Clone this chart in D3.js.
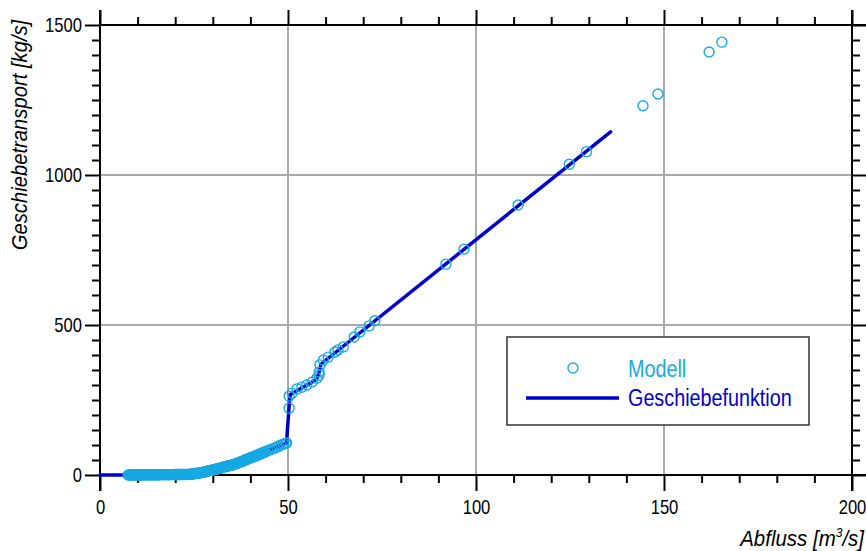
<!DOCTYPE html>
<html>
<head>
<meta charset="utf-8">
<script src="https://cdn.jsdelivr.net/npm/d3@7"></script>
<style>
  body { margin: 0; background: #fff; }
  svg text { font-family: "Liberation Sans", Arial, sans-serif; }
</style>
</head>
<body>
<div id="chart"></div>
<script>
// Modell points: discharge [m3/s] and bedload [kg/s]
const modelQ = [
  7.5, 7.75, 8, 8.25, 8.5, 8.75, 9, 9.25, 9.5, 9.75, 10, 10.25, 10.5, 10.75, 11, 11.25, 11.5, 11.75,
  12, 12.25, 12.5, 12.75, 13, 13.25, 13.5, 13.75, 14, 14.25, 14.5, 14.75, 15, 15.25, 15.5, 15.75,
  16, 16.25, 16.5, 16.75, 17, 17.25, 17.5, 17.75, 18, 18.25, 18.5, 18.75, 19, 19.25, 19.5, 19.75,
  20, 20.25, 20.5, 20.75, 21, 21.25, 21.5, 21.75, 22, 22.25, 22.5, 22.75, 23, 23.25, 23.5, 23.75,
  24, 24.25, 24.5, 24.75, 25, 25.25, 25.5, 25.75, 26, 26.25, 26.5, 26.75, 27, 27.25, 27.5, 27.75,
  28, 28.25, 28.5, 28.75, 29, 29.25, 29.5, 29.75, 30, 30.25, 30.5, 30.75, 31, 31.25, 31.5, 31.75,
  32, 32.25, 32.5, 32.75, 33, 33.25, 33.5, 33.75, 34, 34.25, 34.5, 34.75, 35, 35.25, 35.5, 35.75,
  36, 36.25, 36.5, 36.75, 37, 37.25, 37.5, 37.75, 38, 38.25, 38.5, 38.75, 39, 39.25, 39.5, 39.75,
  40, 40.25, 40.5, 40.75, 41, 41.25, 41.5, 41.75, 42, 42.25, 42.5, 42.75, 43, 43.25, 43.5, 43.75,
  44, 44.6, 45.2, 45.8, 46.4, 47, 47.6, 48.2, 48.8, 49.3, 49.6,
  50.3, 50.3, 51.1, 52.4, 53.7, 55, 56.4, 57.7, 58.3, 58.3, 58.5, 59.4, 60.7, 62.5, 63.3, 64.7,
  67.6, 69.1, 71.6, 73.1, 92, 96.8, 111.2, 124.8, 129.4, 144.4, 148.4, 162, 165.4];
const modelG = [
  0.2, 0.2, 0.3, 0.3, 0.3, 0.3, 0.4, 0.4, 0.4, 0.4, 0.5, 0.5, 0.5, 0.5, 0.6, 0.6, 0.6, 0.6,
  0.7, 0.7, 0.7, 0.7, 0.8, 0.8, 0.8, 0.8, 0.9, 0.9, 0.9, 0.9, 1.0, 1.0, 1.0, 1.0,
  1.1, 1.1, 1.1, 1.1, 1.2, 1.2, 1.2, 1.2, 1.3, 1.3, 1.3, 1.3, 1.4, 1.4, 1.4, 1.4,
  1.5, 1.5, 1.5, 1.6, 1.6, 1.6, 1.7, 1.7, 1.8, 1.8, 1.9, 1.9, 2.0, 2.0, 2.1, 2.2,
  2.3, 2.7, 3.2, 3.7, 4.2, 4.7, 5.2, 5.7, 6.2, 6.7, 7.2, 7.7, 8.2, 8.9, 9.6, 10.3,
  11, 11.8, 12.5, 13.2, 14, 14.8, 15.5, 16.2, 17, 17.8, 18.5, 19.2, 20, 20.8, 21.5, 22.2,
  23, 24, 25, 26, 27, 27.8, 28.5, 29.2, 30, 30.8, 31.5, 32.2, 33, 34, 35, 36,
  37, 38.2, 39.4, 40.6, 41.8, 43, 44.2, 45.4, 46.6, 47.9, 49.2, 50.6, 52, 53.2, 54.5, 55.8,
  57, 58.2, 59.5, 60.8, 62, 63.2, 64.5, 65.8, 67, 68.3, 69.6, 71, 72.3, 73.6, 75, 76.3,
  77.6, 81, 84, 87, 90, 93, 96.5, 100, 103, 105.5, 107,
  223, 263, 273, 287, 293, 300, 310, 323, 333, 343, 367, 383, 393, 410, 417, 427,
  460, 477, 497, 514, 703, 753, 900, 1036, 1078, 1231, 1270, 1410, 1443];

// Geschiebefunktion (bedload function)
const funcQ = [0, 7, 24, 27, 30, 33, 36, 39, 42, 45, 48, 49.6, 50.3, 50.6, 57.6, 58.2, 58.8, 135.8];
const funcG = [0, 0, 2, 8, 17, 27, 37, 52, 67, 83, 99, 107, 230, 268, 318, 340, 370, 1144];

const xTicks = [0, 50, 100, 150, 200];
const yTicks = [0, 500, 1000, 1500];

const W = 866, H = 551;
const plot = { left: 100, right: 852, top: 25, bottom: 475 };
const cModel = "#16a9e3", cFunc = "#0000cc";

const x = d3.scaleLinear().domain([0, 200]).range([plot.left, plot.right]);
const y = d3.scaleLinear().domain([0, 1500]).range([plot.bottom, plot.top]);

const svg = d3.select("#chart").append("svg")
  .attr("width", W).attr("height", H);

// squeeze text horizontally (reference uses a narrow face)
function narrow(sel, k) {
  sel.each(function() {
    const t = d3.select(this);
    const tx = +t.attr("x") || 0, ty = +t.attr("y") || 0;
    t.attr("x", 0).attr("y", 0)
      .attr("transform", `translate(${tx},${ty}) scale(${k},1)`);
  });
}

// grid
const grid = svg.append("g").attr("stroke", "#aaaaaa").attr("stroke-width", 2);
grid.selectAll("line.gx").data(xTicks.slice(1, -1)).enter().append("line")
  .attr("x1", d => x(d)).attr("x2", d => x(d))
  .attr("y1", plot.top).attr("y2", plot.bottom);
grid.selectAll("line.gy").data(yTicks.slice(1, -1)).enter().append("line")
  .attr("x1", plot.left).attr("x2", plot.right)
  .attr("y1", d => y(d)).attr("y2", d => y(d));

// axes on all four sides, ticks outward
const minorX = d3.range(0, 201, 10);
const minorY = d3.range(0, 1501, 50);

const gB = svg.append("g").attr("transform", `translate(0,${plot.bottom})`)
  .call(d3.axisBottom(x).tickValues(minorX).tickSize(8).tickFormat(d => xTicks.includes(d) ? d : ""));
gB.selectAll(".tick").filter(d => xTicks.includes(d)).select("line").attr("y2", 16);
gB.selectAll(".tick text").attr("y", 25).attr("dy", "0.71em");

const gT = svg.append("g").attr("transform", `translate(0,${plot.top})`)
  .call(d3.axisTop(x).tickValues(minorX).tickSize(8).tickFormat(""));
gT.selectAll(".tick").filter(d => xTicks.includes(d)).select("line").attr("y2", -15);

const gL = svg.append("g").attr("transform", `translate(${plot.left},0)`)
  .call(d3.axisLeft(y).tickValues(minorY).tickSize(8).tickFormat(d => yTicks.includes(d) ? d : ""));
gL.selectAll(".tick").filter(d => yTicks.includes(d)).select("line").attr("x2", -15);
gL.selectAll(".tick text").attr("x", -18);

const gR = svg.append("g").attr("transform", `translate(${plot.right},0)`)
  .call(d3.axisRight(y).tickValues(minorY).tickSize(8).tickFormat(""));
gR.selectAll(".tick").filter(d => yTicks.includes(d)).select("line").attr("x2", 14);

[gB, gT, gL, gR].forEach(g => {
  g.select(".domain").remove();
  g.selectAll(".tick line").attr("stroke", "#000").attr("stroke-width", 2);
  g.selectAll(".tick text").attr("fill", "#000").style("font-size", "20px")
    .style("font-family", "'Liberation Sans', Arial, sans-serif");
  narrow(g.selectAll(".tick text"), 0.83);
});

// frame lines
const frame = svg.append("g").attr("stroke", "#000").attr("stroke-width", 2);
frame.append("line").attr("x1", plot.left).attr("x2", W).attr("y1", plot.bottom).attr("y2", plot.bottom);
frame.append("line").attr("x1", plot.left).attr("x2", W).attr("y1", plot.top).attr("y2", plot.top);
frame.append("line").attr("x1", plot.left).attr("x2", plot.left).attr("y1", plot.top - 15).attr("y2", plot.bottom + 16);
frame.append("line").attr("x1", plot.right).attr("x2", plot.right).attr("y1", plot.top - 15).attr("y2", plot.bottom + 16);

// function line
const lineData = funcQ.map((q, i) => [q, funcG[i]]);
svg.append("path").datum(lineData)
  .attr("fill", "none").attr("stroke", cFunc).attr("stroke-width", 3.5)
  .attr("stroke-linejoin", "round").attr("stroke-linecap", "round")
  .attr("d", d3.line().x(d => x(d[0])).y(d => y(d[1])));

// model points
const pts = modelQ.map((q, i) => [q, modelG[i]]);
svg.append("g").selectAll("circle").data(pts).enter().append("circle")
  .attr("cx", d => x(d[0])).attr("cy", d => y(d[1])).attr("r", 5)
  .attr("fill", "none").attr("stroke", cModel).attr("stroke-width", 1.4);

// axis titles
svg.append("text")
  .attr("transform", "translate(27,135) rotate(-90) scale(0.92,1)")
  .attr("text-anchor", "middle")
  .style("font-size", "22px").style("font-style", "italic")
  .text("Geschiebetransport [kg/s]");

const xt = svg.append("text")
  .attr("transform", "translate(864,546) scale(0.93,1)").attr("text-anchor", "end")
  .style("font-size", "22px").style("font-style", "italic");
xt.append("tspan").text("Abfluss [m");
xt.append("tspan").attr("dy", -9).style("font-size", "13px").text("3");
xt.append("tspan").attr("dy", 9).text("/s]");

// legend
const lg = svg.append("g");
lg.append("rect").attr("x", 507).attr("y", 337).attr("width", 302).attr("height", 88)
  .attr("fill", "#fff").attr("stroke", "#333").attr("stroke-width", 1.5);
lg.append("circle").attr("cx", 573).attr("cy", 368).attr("r", 5)
  .attr("fill", "none").attr("stroke", cModel).attr("stroke-width", 1.4);
lg.append("line").attr("x1", 526).attr("x2", 619).attr("y1", 398).attr("y2", 398)
  .attr("stroke", cFunc).attr("stroke-width", 3.5);
lg.append("text").attr("x", 628).attr("y", 377).attr("fill", cModel)
  .style("font-size", "23px").text("Modell");
lg.append("text").attr("x", 628).attr("y", 406).attr("fill", cFunc)
  .style("font-size", "23px").text("Geschiebefunktion");
narrow(lg.selectAll("text"), 0.86);
</script>
</body>
</html>
